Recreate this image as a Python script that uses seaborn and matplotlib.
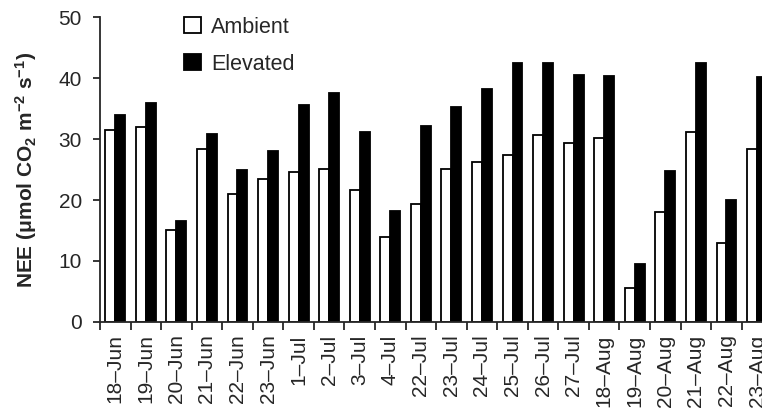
import matplotlib
matplotlib.use("Agg")
import matplotlib.pyplot as plt
import seaborn as sns
import pandas as pd
import numpy as np

dates = ["18–Jun", "19–Jun", "20–Jun", "21–Jun", "22–Jun", "23–Jun",
         "1–Jul", "2–Jul", "3–Jul", "4–Jul",
         "22–Jul", "23–Jul", "24–Jul", "25–Jul", "26–Jul", "27–Jul",
         "18–Aug", "19–Aug", "20–Aug", "21–Aug", "22–Aug", "23–Aug"]
ambient = [31.4, 31.9, 15.1, 28.4, 21.0, 23.5,
           24.6, 25.1, 21.6, 14.0,
           19.3, 25.1, 26.2, 27.4, 30.7, 29.3,
           30.2, 5.6, 18.1, 31.1, 12.9, 28.4]
elevated = [34.0, 35.9, 16.6, 30.8, 25.0, 28.0,
            35.6, 37.5, 31.2, 18.2,
            32.1, 35.2, 38.2, 42.4, 42.4, 40.5,
            40.3, 9.5, 24.7, 42.4, 20.0, 40.1]
series = ["Ambient", "Elevated"]

df = pd.DataFrame({
    "date": dates * 2,
    "NEE": ambient + elevated,
    "treatment": [series[0]] * len(dates) + [series[1]] * len(dates),
})

sns.set_style("ticks")
plt.rcParams["font.family"] = ["Liberation Sans", "DejaVu Sans"]
plt.rcParams["mathtext.fontset"] = "custom"
plt.rcParams["mathtext.rm"] = "Liberation Sans:bold"
plt.rcParams["mathtext.bf"] = "Liberation Sans:bold"
plt.rcParams["mathtext.it"] = "Liberation Sans:bold"
plt.rcParams["mathtext.default"] = "bf"

fig = plt.figure(figsize=(7.62, 4.16), dpi=100)
ax = fig.add_axes([0.1312, 0.226, 0.8823, 0.733])

sns.barplot(data=df, x="date", y="NEE", hue="treatment", order=dates,
            hue_order=series, palette={"Ambient": "white", "Elevated": "black"},
            edgecolor="black", linewidth=1.3, width=0.65, gap=0,
            ax=ax, legend=True)

ax.set_xlim(-0.5, len(dates) - 0.5)
ax.set_ylim(0, 50)
ax.set_yticks([0, 10, 20, 30, 40, 50])
ax.tick_params(axis="y", labelsize=15, width=1.3, length=5, direction="out", pad=8)
ax.set_xticks(range(len(dates)))
ax.set_xticklabels(dates, rotation=90, fontsize=15)
ax.tick_params(axis="x", which="major", length=0, pad=9)
ax.set_xticks(np.arange(-0.5, len(dates), 1.0), minor=True)
ax.tick_params(axis="x", which="minor", length=6, width=1.3, direction="out")

for s in ["top", "right"]:
    ax.spines[s].set_visible(False)
for s in ["left", "bottom"]:
    ax.spines[s].set_linewidth(1.3)

ax.set_xlabel("")
ax.set_ylabel(r"NEE ($\mu$mol CO$_2$ m$^{-2}$ s$^{-1}$)", fontsize=15,
              fontweight="bold", labelpad=14)

handles, labels = ax.get_legend_handles_labels()
ax.legend(handles, labels, loc="upper left", bbox_to_anchor=(0.112, 1.03),
          frameon=False, fontsize=15.5, handlelength=0.8, handleheight=0.8,
          handletextpad=0.47, labelspacing=0.75, borderaxespad=0)

fig.savefig("out.png", dpi=100)
